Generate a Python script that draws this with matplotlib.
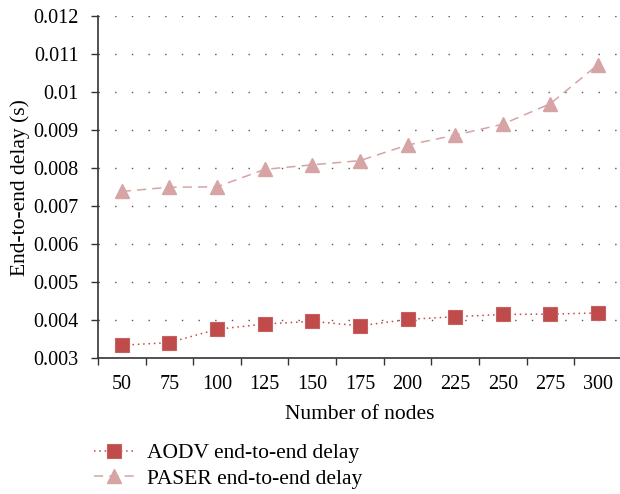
import matplotlib.pyplot as plt
import numpy as np

plt.rcParams['font.family'] = ['Liberation Serif', 'DejaVu Serif']

# number of nodes and measured delays (s)
nodes = [50, 75, 100, 125, 150, 175, 200, 225, 250, 275, 300]
aodv = [0.00334, 0.00341, 0.00376, 0.00390, 0.00397, 0.00385,
        0.00402, 0.00409, 0.00415, 0.00416, 0.00419]
paser = [0.00739, 0.00750, 0.00751, 0.00797, 0.00809, 0.00820,
         0.00861, 0.00887, 0.00916, 0.00970, 0.01073]
yticks = [0.003, 0.004, 0.005, 0.006, 0.007, 0.008, 0.009, 0.01, 0.011, 0.012]

aodv_col = "#bf4b4b"
paser_col = "#d6a4a4"
spine_col = "#333333"

fig = plt.figure(figsize=(6.2, 4.94), dpi=100)
ax = fig.add_axes([0.158, 0.275, 0.845, 0.692])

x = np.arange(len(nodes))
ax.plot(x, aodv, color=aodv_col, linestyle=(0, (1, 2.5)), linewidth=1.1,
        marker="s", markersize=9.5, markeredgecolor="#c86060", markeredgewidth=0.8,
        label="AODV end-to-end delay", zorder=3)
ax.plot(x, paser, color=paser_col, linestyle=(0, (6, 4)), linewidth=1.1,
        marker="^", markersize=10, markeredgecolor=paser_col,
        label="PASER end-to-end delay", zorder=3)

ax.set_xlim(-0.5, len(nodes) - 0.5)
ax.set_ylim(0.003, 0.012)

ax.set_xticks(x)
ax.set_xticklabels([str(n) for n in nodes])
ax.set_xticks(np.arange(len(nodes) + 1) - 0.5, minor=True)
ax.tick_params(axis="x", which="major", length=0, pad=12, labelsize=14.5)
ax.tick_params(axis="x", which="minor", length=5, width=1, color=spine_col, direction="out")

ax.set_yticks(yticks)
ax.set_yticklabels([f"{v:g}" for v in yticks])
ax.tick_params(axis="y", length=5, width=1, color=spine_col, direction="out", labelsize=14.5, pad=9)

for v in yticks[1:]:
    ax.axhline(v, color="#555555", linestyle=(0, (1, 11)), linewidth=1.0, zorder=1)

for side in ["top", "right"]:
    ax.spines[side].set_visible(False)
for side in ["left", "bottom"]:
    ax.spines[side].set_color(spine_col)
    ax.spines[side].set_linewidth(1.2)

ax.set_xlabel("Number of nodes", fontsize=15.5, labelpad=8)
ax.set_ylabel("End-to-end delay (s)", fontsize=15.5, labelpad=2)

leg = fig.legend(loc="upper left", bbox_to_anchor=(0.137, 0.12, 0.5, 0.0),
                 frameon=False, fontsize=15.5, handlelength=1.9,
                 handletextpad=0.6, labelspacing=0.25, borderaxespad=0)

fig.savefig("out.png", dpi=100)
